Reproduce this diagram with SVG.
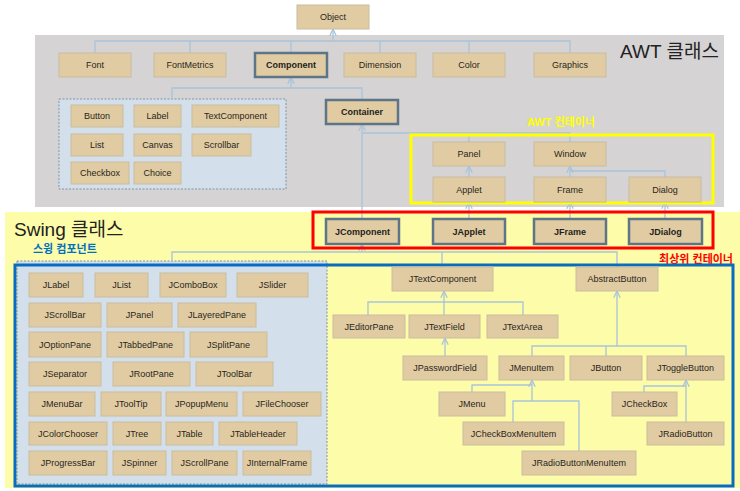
<svg xmlns="http://www.w3.org/2000/svg" width="740" height="491" viewBox="0 0 740 491">
<style>
.b{fill:#e0cba2;stroke:#c9bc9f;stroke-width:1}
.bb{fill:#e0cba2;stroke:#5e7487;stroke-width:2.5}
.t{font-family:"Liberation Sans",Arial,sans-serif;font-size:9px;fill:#2a2620;text-anchor:middle}
.tb{font-family:"Liberation Sans",Arial,sans-serif;font-size:9px;font-weight:bold;fill:#1e1e1e;text-anchor:middle}
.c{fill:none;stroke:#a9c3da;stroke-width:1.3}
.title{font-family:"Liberation Sans","Noto Sans CJK KR",sans-serif;font-size:19px;fill:#222}
.lab{font-family:"Liberation Sans","Noto Sans CJK KR",sans-serif;font-size:11px;font-weight:bold}
.dash{fill:#d3e0eb;stroke:#8193a4;stroke-width:1;stroke-dasharray:2,1.5}
</style>
<defs>
<marker id="ar" viewBox="0 0 10 10" refX="9.5" refY="5" markerWidth="8" markerHeight="8" markerUnits="userSpaceOnUse" orient="auto">
<path d="M1,1 L9.5,5 L1,9" fill="none" stroke="#a9c3da" stroke-width="1.6"/>
</marker>
</defs>
<rect width="740" height="491" fill="#ffffff"/>
<!-- backgrounds -->
<rect x="35" y="35" width="689" height="172" fill="#d5d3d3"/>
<rect x="5" y="212" width="735" height="276" fill="#fdfca8"/>
<rect x="59" y="99" width="227" height="90" class="dash"/>
<rect x="17" y="261" width="310" height="223" class="dash"/>
<text x="620" y="58" class="title">AWT 클래스</text>
<text x="14" y="236" class="title">Swing 클래스</text>
<text x="561" y="126" class="lab" fill="#ffff00" text-anchor="middle">AWT 컨테이너</text>
<text x="33" y="253" class="lab" fill="#0070c0">스윙 컴포넌트</text>
<text x="733" y="263" class="lab" fill="#ff0000" text-anchor="end">최상위 컨테이너</text>
<!-- connectors -->
<g id="connectors">
<path class="c" d="M95,53 V41 H570 V53 M190,41 V53 M291,41 V52 M380,41 V53 M469,41 V53"/>
<path class="c" d="M333,41 V29" marker-end="url(#ar)"/>
<path class="c" d="M172,99 V88 H362 V100"/>
<path class="c" d="M291,88 V77" marker-end="url(#ar)"/>
<path class="c" d="M362,219 V124" marker-end="url(#ar)"/>
<path class="c" d="M362,133 H570 V142 M469,133 V142"/>
<path class="c" d="M469,177 V166" marker-end="url(#ar)"/>
<path class="c" d="M665,177 V171 H570"/>
<path class="c" d="M570,177 V166" marker-end="url(#ar)"/>
<path class="c" d="M469,219 V202" marker-end="url(#ar)"/>
<path class="c" d="M570,219 V202" marker-end="url(#ar)"/>
<path class="c" d="M665,219 V202" marker-end="url(#ar)"/>
<path class="c" d="M172,261 V252 H617 V267 M442,252 V267"/>
<path class="c" d="M362,252 V244" marker-end="url(#ar)"/>
<path class="c" d="M368,315 V302 H523 V315"/>
<path class="c" d="M444,315 V291" marker-end="url(#ar)"/>
<path class="c" d="M445,356 V338" marker-end="url(#ar)"/>
<path class="c" d="M532,356 V346 H686 V356 M606,346 V356"/>
<path class="c" d="M617,346 V291" marker-end="url(#ar)"/>
<path class="c" d="M472,392 V385 H532 M513,422 V401 H579 V451"/>
<path class="c" d="M532,401 V380" marker-end="url(#ar)"/>
<path class="c" d="M644,392 V386 H686"/>
<path class="c" d="M686,422 V380" marker-end="url(#ar)"/>
</g>
<!-- frames -->
<rect x="411" y="135" width="302" height="68" fill="none" stroke="#ffff00" stroke-width="3"/>
<rect x="313" y="212" width="400" height="36" fill="none" stroke="#ff0000" stroke-width="3"/>
<rect x="15" y="265" width="718" height="221" fill="none" stroke="#0a6cc0" stroke-width="3"/>
<!-- AWT nodes -->
<g id="n-object"><rect x="297" y="5" width="72" height="24" class="b"/><text x="333" y="20" class="t">Object</text></g>
<g id="n-font"><rect x="59" y="53" width="72" height="24" class="b"/><text x="95" y="68" class="t">Font</text></g>
<g id="n-fontmetrics"><rect x="154" y="53" width="72" height="24" class="b"/><text x="190" y="68" class="t">FontMetrics</text></g>
<g id="n-component"><rect x="255" y="53" width="72" height="24" class="bb"/><text x="291" y="68" class="tb">Component</text></g>
<g id="n-dimension"><rect x="344" y="53" width="72" height="24" class="b"/><text x="380" y="68" class="t">Dimension</text></g>
<g id="n-color"><rect x="433" y="53" width="72" height="24" class="b"/><text x="469" y="68" class="t">Color</text></g>
<g id="n-graphics"><rect x="534" y="53" width="72" height="24" class="b"/><text x="570" y="68" class="t">Graphics</text></g>
<g id="n-button"><rect x="71" y="105" width="52" height="22" class="b"/><text x="97" y="119" class="t">Button</text></g>
<g id="n-label"><rect x="134" y="105" width="47" height="22" class="b"/><text x="157.5" y="119" class="t">Label</text></g>
<g id="n-textcomponent"><rect x="192" y="105" width="87" height="22" class="b"/><text x="235.5" y="119" class="t">TextComponent</text></g>
<g id="n-list"><rect x="71" y="134" width="52" height="22" class="b"/><text x="97" y="148" class="t">List</text></g>
<g id="n-canvas"><rect x="134" y="134" width="47" height="22" class="b"/><text x="157.5" y="148" class="t">Canvas</text></g>
<g id="n-scrollbar"><rect x="192" y="134" width="59" height="22" class="b"/><text x="221.5" y="148" class="t">Scrollbar</text></g>
<g id="n-checkbox"><rect x="71" y="162" width="58" height="22" class="b"/><text x="100" y="176" class="t">Checkbox</text></g>
<g id="n-choice"><rect x="134" y="162" width="47" height="22" class="b"/><text x="157.5" y="176" class="t">Choice</text></g>
<g id="n-container"><rect x="326" y="100" width="72" height="24" class="bb"/><text x="362" y="115" class="tb">Container</text></g>
<g id="n-panel"><rect x="433" y="142" width="72" height="24" class="b"/><text x="469" y="157" class="t">Panel</text></g>
<g id="n-window"><rect x="534" y="142" width="72" height="24" class="b"/><text x="570" y="157" class="t">Window</text></g>
<g id="n-applet"><rect x="433" y="177" width="72" height="25" class="b"/><text x="469" y="192.5" class="t">Applet</text></g>
<g id="n-frame"><rect x="534" y="177" width="72" height="25" class="b"/><text x="570" y="192.5" class="t">Frame</text></g>
<g id="n-dialog"><rect x="629" y="177" width="72" height="25" class="b"/><text x="665" y="192.5" class="t">Dialog</text></g>
<!-- Swing top-level -->
<g id="n-jcomponent"><rect x="326" y="219" width="73" height="25" class="bb"/><text x="362.5" y="234.5" class="tb">JComponent</text></g>
<g id="n-japplet"><rect x="433" y="219" width="72" height="25" class="bb"/><text x="469" y="234.5" class="tb">JApplet</text></g>
<g id="n-jframe"><rect x="534" y="219" width="72" height="25" class="bb"/><text x="570" y="234.5" class="tb">JFrame</text></g>
<g id="n-jdialog"><rect x="629" y="219" width="73" height="25" class="bb"/><text x="665.5" y="234.5" class="tb">JDialog</text></g>
<!-- Swing hierarchy right -->
<g id="n-jtextcomponent"><rect x="392" y="267" width="101" height="24" class="b"/><text x="442.5" y="282" class="t">JTextComponent</text></g>
<g id="n-abstractbutton"><rect x="576" y="267" width="82" height="24" class="b"/><text x="617" y="282" class="t">AbstractButton</text></g>
<g id="n-jeditorpane"><rect x="333" y="315" width="72" height="23" class="b"/><text x="369" y="329.5" class="t">JEditorPane</text></g>
<g id="n-jtextfield"><rect x="409" y="315" width="71" height="23" class="b"/><text x="444.5" y="329.5" class="t">JTextField</text></g>
<g id="n-jtextarea"><rect x="487" y="315" width="71" height="23" class="b"/><text x="522.5" y="329.5" class="t">JTextArea</text></g>
<g id="n-jpasswordfield"><rect x="403" y="356" width="84" height="24" class="b"/><text x="445" y="371" class="t">JPasswordField</text></g>
<g id="n-jmenuitem"><rect x="499" y="356" width="65" height="24" class="b"/><text x="531.5" y="371" class="t">JMenuItem</text></g>
<g id="n-jbutton"><rect x="570" y="356" width="72" height="24" class="b"/><text x="606" y="371" class="t">JButton</text></g>
<g id="n-jtogglebutton"><rect x="647" y="356" width="77" height="24" class="b"/><text x="685.5" y="371" class="t">JToggleButton</text></g>
<g id="n-jmenu"><rect x="439" y="392" width="66" height="24" class="b"/><text x="472" y="407" class="t">JMenu</text></g>
<g id="n-jcheckbox"><rect x="612" y="392" width="65" height="24" class="b"/><text x="644.5" y="407" class="t">JCheckBox</text></g>
<g id="n-jcheckboxmenuitem"><rect x="463" y="422" width="101" height="23" class="b"/><text x="513.5" y="436.5" class="t">JCheckBoxMenuItem</text></g>
<g id="n-jradiobutton"><rect x="647" y="422" width="77" height="23" class="b"/><text x="685.5" y="436.5" class="t">JRadioButton</text></g>
<g id="n-jradiobuttonmenuitem"><rect x="522" y="451" width="114" height="24" class="b"/><text x="579" y="466" class="t">JRadioButtonMenuItem</text></g>
<!-- Swing components -->
<g id="n-jlabel"><rect x="29" y="273" width="54" height="24" class="b"/><text x="56" y="288" class="t">JLabel</text></g>
<g id="n-jlist"><rect x="95" y="273" width="53" height="24" class="b"/><text x="121.5" y="288" class="t">JList</text></g>
<g id="n-jcombobox"><rect x="160" y="273" width="66" height="24" class="b"/><text x="193" y="288" class="t">JComboBox</text></g>
<g id="n-jslider"><rect x="237" y="273" width="71" height="24" class="b"/><text x="272.5" y="288" class="t">JSlider</text></g>
<g id="n-jscrollbar"><rect x="29" y="303" width="72" height="24" class="b"/><text x="65" y="318" class="t">JScrollBar</text></g>
<g id="n-jpanel"><rect x="107" y="303" width="65" height="24" class="b"/><text x="139.5" y="318" class="t">JPanel</text></g>
<g id="n-jlayeredpane"><rect x="178" y="303" width="78" height="24" class="b"/><text x="217" y="318" class="t">JLayeredPane</text></g>
<g id="n-joptionpane"><rect x="29" y="332" width="72" height="25" class="b"/><text x="65" y="347.5" class="t">JOptionPane</text></g>
<g id="n-jtabbedpane"><rect x="107" y="332" width="77" height="25" class="b"/><text x="145.5" y="347.5" class="t">JTabbedPane</text></g>
<g id="n-jsplitpane"><rect x="190" y="332" width="77" height="25" class="b"/><text x="228.5" y="347.5" class="t">JSplitPane</text></g>
<g id="n-jseparator"><rect x="29" y="362" width="72" height="24" class="b"/><text x="65" y="377" class="t">JSeparator</text></g>
<g id="n-jrootpane"><rect x="113" y="362" width="77" height="24" class="b"/><text x="151.5" y="377" class="t">JRootPane</text></g>
<g id="n-jtoolbar"><rect x="196" y="362" width="77" height="24" class="b"/><text x="234.5" y="377" class="t">JToolBar</text></g>
<g id="n-jmenubar"><rect x="29" y="392" width="66" height="24" class="b"/><text x="62" y="407" class="t">JMenuBar</text></g>
<g id="n-jtooltip"><rect x="101" y="392" width="60" height="24" class="b"/><text x="131" y="407" class="t">JToolTip</text></g>
<g id="n-jpopupmenu"><rect x="166" y="392" width="71" height="24" class="b"/><text x="201.5" y="407" class="t">JPopupMenu</text></g>
<g id="n-jfilechooser"><rect x="243" y="392" width="78" height="24" class="b"/><text x="282" y="407" class="t">JFileChooser</text></g>
<g id="n-jcolorchooser"><rect x="29" y="422" width="78" height="23" class="b"/><text x="68" y="436.5" class="t">JColorChooser</text></g>
<g id="n-jtree"><rect x="113" y="422" width="48" height="23" class="b"/><text x="137" y="436.5" class="t">JTree</text></g>
<g id="n-jtable"><rect x="166" y="422" width="47" height="23" class="b"/><text x="189.5" y="436.5" class="t">JTable</text></g>
<g id="n-jtableheader"><rect x="219" y="422" width="78" height="23" class="b"/><text x="258" y="436.5" class="t">JTableHeader</text></g>
<g id="n-jprogressbar"><rect x="29" y="451" width="78" height="24" class="b"/><text x="68" y="466" class="t">JProgressBar</text></g>
<g id="n-jspinner"><rect x="113" y="451" width="53" height="24" class="b"/><text x="139.5" y="466" class="t">JSpinner</text></g>
<g id="n-jscrollpane"><rect x="172" y="451" width="65" height="24" class="b"/><text x="204.5" y="466" class="t">JScrollPane</text></g>
<g id="n-jinternalframe"><rect x="243" y="451" width="68" height="24" class="b"/><text x="277" y="466" class="t">JInternalFrame</text></g>
</svg>
